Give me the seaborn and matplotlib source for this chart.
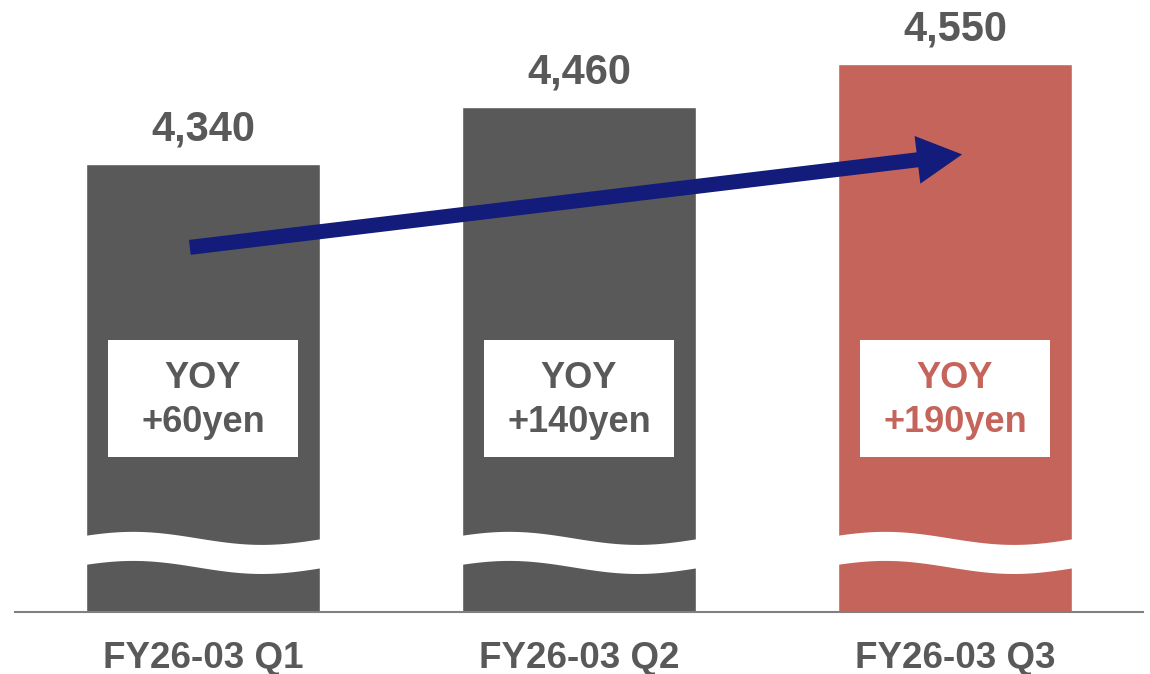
import numpy as np
import pandas as pd
import matplotlib
matplotlib.use("Agg")
import matplotlib.pyplot as plt
from matplotlib.patches import Rectangle, FancyArrowPatch
import seaborn as sns

# ---- data ----
categories = ["FY26-03 Q1", "FY26-03 Q2", "FY26-03 Q3"]
values = [4340, 4460, 4550]
yoy_labels = ["+60yen", "+140yen", "+190yen"]
value_labels = ["4,340", "4,460", "4,550"]

GRAY = "#595959"
RED = "#C4645A"
NAVY = "#131C7A"
bar_colors = [GRAY, GRAY, RED]

sns.set_theme(style="white")
plt.rcParams["font.family"] = ["Liberation Sans", "DejaVu Sans"]

fig = plt.figure(figsize=(11.5, 6.74), dpi=100)
ax = fig.add_axes([15 / 1150, 62 / 674, 1128 / 1150, 612 / 674])

df = pd.DataFrame({"cat": categories, "val": values})
sns.barplot(data=df, x="cat", y="val", hue="cat", palette=bar_colors,
            width=0.622, saturation=1, legend=False, ax=ax, zorder=2)

ymin, ymax = 3400, 4684
ax.set_ylim(ymin, ymax)
ax.set_xlim(-0.5, 2.5)

# broken-axis wave across bars
bw = 0.622
t = np.linspace(0, 1, 200)
for i in range(len(categories)):
    xs = i - bw / 2 + t * bw
    center = 3525 + 13.7 * np.cos(2 * np.pi * (t - 0.2) / 1.1)
    xs_ext = np.concatenate([[xs[0] - 0.01], xs, [xs[-1] + 0.01]])
    c_ext = np.concatenate([[center[0]], center, [center[-1]]])
    ax.fill_between(xs_ext, c_ext - 30.5, c_ext + 30.5, color="white",
                    lw=0, zorder=3)

# value labels
for i, (v, lab) in enumerate(zip(values, value_labels)):
    ax.annotate(lab, (i, v), xytext=(0, 17), textcoords="offset points",
                ha="center", va="baseline", fontsize=30, fontweight="bold",
                color=GRAY, zorder=5)

# YOY boxes
box_w = 0.505
for i, lab in enumerate(yoy_labels):
    tc = RED if i == 2 else GRAY
    ax.add_patch(Rectangle((i - box_w / 2, 3726), box_w, 245,
                           facecolor="white", edgecolor="none", zorder=4))
    ax.text(i, 3890, "YOY", ha="center", va="center", fontsize=26,
            fontweight="bold", color=tc, zorder=5)
    ax.text(i, 3797, lab, ha="center", va="center", fontsize=26,
            fontweight="bold", color=tc, zorder=5)

# trend arrow
arrow = FancyArrowPatch((-0.035, 4165), (2.019, 4360),
                        arrowstyle="simple,head_length=3.0,head_width=3.2,tail_width=1",
                        mutation_scale=10.8, color=NAVY, lw=0,
                        shrinkA=0, shrinkB=0, zorder=6)
ax.add_patch(arrow)

# axes styling
for s in ["top", "right", "left"]:
    ax.spines[s].set_visible(False)
ax.spines["bottom"].set_color("#808080")
ax.spines["bottom"].set_linewidth(1.5)
ax.set_yticks([])
ax.set_xlabel("")
ax.set_ylabel("")
ax.tick_params(axis="x", length=0, pad=21)
for lbl in ax.get_xticklabels():
    lbl.set_fontsize(26.5)
    lbl.set_fontweight("bold")
    lbl.set_color(GRAY)

fig.savefig("out.png", dpi=100, facecolor="white")
